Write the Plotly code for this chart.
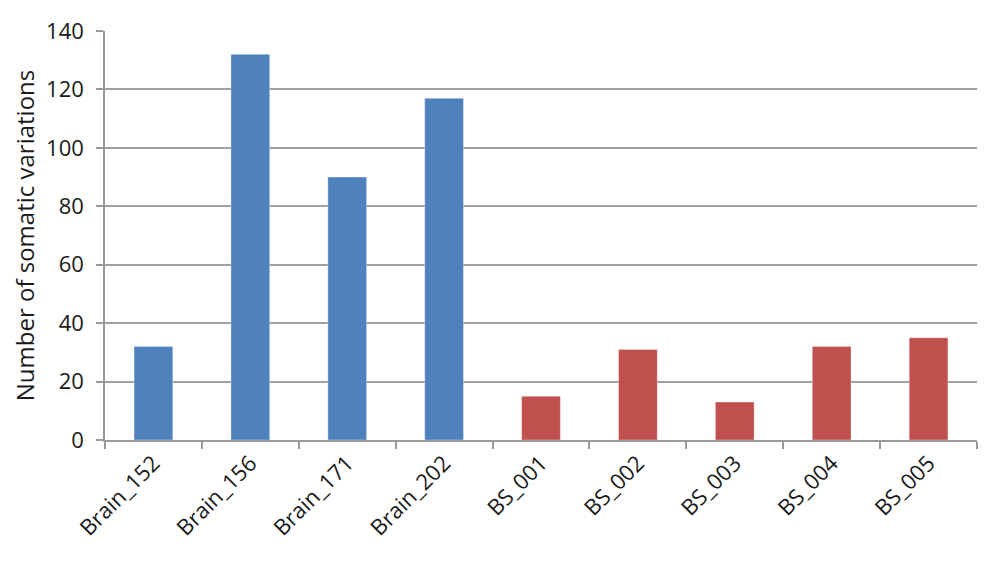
import plotly.graph_objects as go

brain_samples = ["Brain_152", "Brain_156", "Brain_171", "Brain_202"]
brain_values = [32, 132, 90, 117]
bs_samples = ["BS_001", "BS_002", "BS_003", "BS_004", "BS_005"]
bs_values = [15, 31, 13, 32, 35]
y_ticks = [0, 20, 40, 60, 80, 100, 120, 140]

categories = brain_samples + bs_samples
values = brain_values + bs_values
colors = ["#4F81BD"] * len(brain_samples) + ["#C0504D"] * len(bs_samples)

fig = go.Figure(go.Bar(
    x=categories, y=values,
    marker=dict(color=colors, line=dict(color="rgba(255,255,255,0.35)", width=1)),
    width=0.4,
))

font_family = "Open Sans, Noto Sans, sans-serif"
fig.update_layout(
    width=1000, height=561,
    margin=dict(l=97, r=31, t=23, b=129),
    plot_bgcolor="white", paper_bgcolor="white",
    showlegend=False,
    font=dict(family=font_family, size=20, color="#1a1a1a"),
)
fig.update_xaxes(
    type="category", categoryorder="array", categoryarray=categories,
    tickson="boundaries", ticks="outside", ticklen=7, tickcolor="#999999", tickwidth=1.5,
    showline=True, linecolor="#999999", linewidth=1.5,
    tickangle=-45, tickfont=dict(size=22),
    showgrid=False, automargin=False,
)
fig.update_yaxes(
    range=[0, 140], tickvals=y_ticks,
    ticks="outside", ticklen=7, tickcolor="#999999", tickwidth=1.5,
    showline=True, linecolor="#999999", linewidth=1.5,
    showgrid=True, gridcolor="#a0a0a0", gridwidth=1.5,
    zeroline=False, automargin=False,
    ticklabelstandoff=8, tickfont=dict(size=22),
    title=dict(text="Number of somatic variations", font=dict(size=24), standoff=10),
)

fig.write_html("out.html")
